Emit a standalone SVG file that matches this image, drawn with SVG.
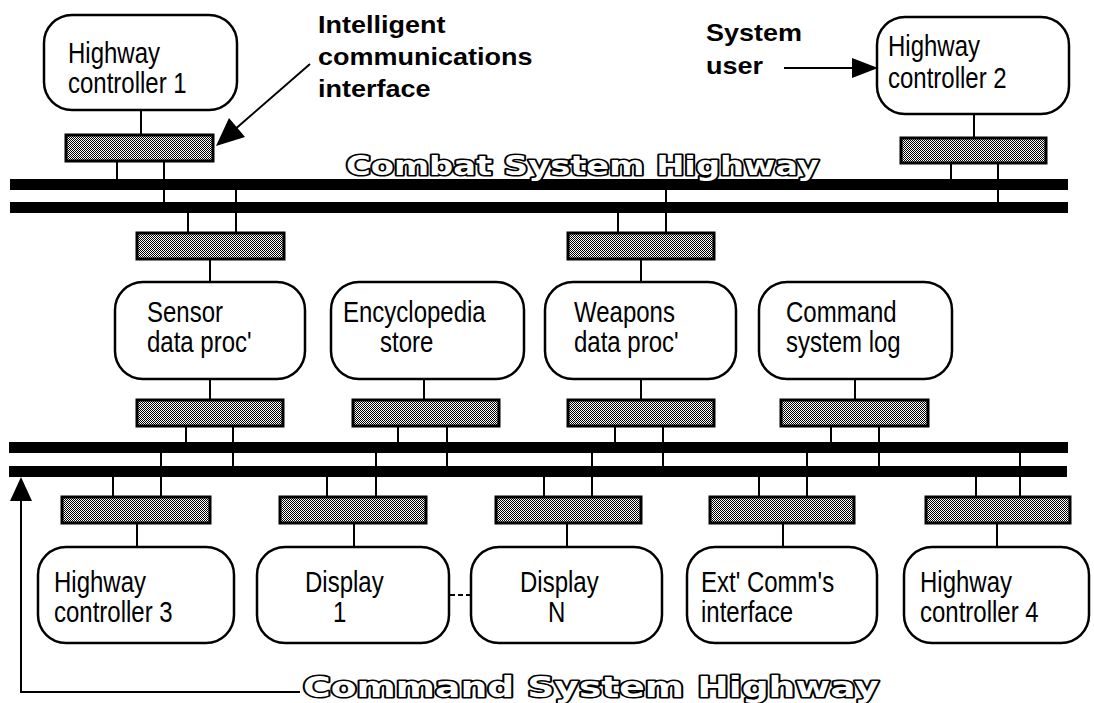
<svg xmlns="http://www.w3.org/2000/svg" width="1094" height="703" viewBox="0 0 1094 703">
<defs>
<pattern id="dither" width="2" height="2" patternUnits="userSpaceOnUse"><rect width="2" height="2" fill="#fff"/><rect width="1" height="1" fill="#000"/><rect x="1" y="1" width="1" height="1" fill="#000"/></pattern>
<style>
.box{fill:#fff;stroke:#000;stroke-width:2.5}
.ici{fill:url(#dither);stroke:#000;stroke-width:3}
.bus{fill:#000}
.ln{stroke:#000;stroke-width:2;fill:none}
.t{font-family:"Liberation Sans",Arial,sans-serif;font-size:24px;fill:#000}
.b{font-family:"Liberation Sans",Arial,sans-serif;font-size:27px;font-weight:bold;fill:#000}
.o{font-family:"DejaVu Sans",sans-serif;font-weight:bold;fill:#fff;stroke:#000;stroke-width:3.2;paint-order:stroke;stroke-linejoin:round}
</style>
</defs>
<rect width="1094" height="703" fill="#fff"/>

<g id="buses">
<rect class="bus" x="10" y="179" width="1058" height="11"/>
<rect class="bus" x="10" y="202" width="1058" height="11"/>
<rect class="bus" x="9" y="442" width="1059" height="11"/>
<rect class="bus" x="9" y="466" width="1058" height="11"/>
</g>

<g id="connectors">
<path class="ln" d="M141 110V135M117 161V179M164 161V202"/>
<path class="ln" d="M974 114V138M951 163V179M998 163V202"/>
<path class="ln" d="M188 213V233M236 190V233M210 259V282"/>
<path class="ln" d="M618 213V233M666 190V233M641 259V282"/>
<path class="ln" d="M210 379V400M186 426V442M233 426V466"/>
<path class="ln" d="M424 379V400M398 426V442M447 426V466"/>
<path class="ln" d="M641 379V400M615 426V442M663 426V466"/>
<path class="ln" d="M855 379V400M831 426V442M879 426V466"/>
<path class="ln" d="M113 477V497M161 453V497M137 523V547"/>
<path class="ln" d="M327 477V497M376 453V497M354 523V547"/>
<path class="ln" d="M544 477V497M592 453V497M567 523V547"/>
<path class="ln" d="M759 477V497M807 453V497M783 523V547"/>
<path class="ln" d="M976 477V497M1020 453V497M997 523V547"/>
<path class="ln" d="M450 595H472" stroke-dasharray="5 3" stroke-width="2.5"/>
<path class="ln" d="M300 692H21V498"/>
<polygon points="21,477 10,501 32,501" fill="#000"/>
<path class="ln" d="M310 64L233 131" stroke-width="3"/>
<polygon points="216,146 245,137 229,118" fill="#000"/>
<path class="ln" d="M784 68H856" stroke-width="3"/>
<polygon points="878,68 852,58 852,78" fill="#000"/>
</g>

<g id="ici">
<rect class="ici" x="66" y="135" width="147" height="26"/>
<rect class="ici" x="901" y="138" width="145" height="25"/>
<rect class="ici" x="137" y="233" width="147" height="26"/>
<rect class="ici" x="568" y="233" width="146" height="26"/>
<rect class="ici" x="137" y="400" width="146" height="26"/>
<rect class="ici" x="353" y="400" width="146" height="26"/>
<rect class="ici" x="568" y="400" width="146" height="26"/>
<rect class="ici" x="781" y="400" width="147" height="26"/>
<rect class="ici" x="62" y="497" width="148" height="26"/>
<rect class="ici" x="280" y="497" width="146" height="26"/>
<rect class="ici" x="496" y="497" width="145" height="26"/>
<rect class="ici" x="710" y="497" width="144" height="26"/>
<rect class="ici" x="926" y="497" width="144" height="26"/>
</g>

<g id="hc1"><rect class="box" x="44" y="15" width="193" height="95" rx="28"/>
<text class="t" transform="translate(68,63) scale(1,1.2)"><tspan x="0" y="0">Highway</tspan><tspan x="0" y="25">controller 1</tspan></text></g>
<g id="hc2"><rect class="box" x="877" y="17" width="192" height="97" rx="28"/>
<text class="t" transform="translate(888,56) scale(1,1.2)"><tspan x="0" y="0">Highway</tspan><tspan x="0" y="26.5">controller 2</tspan></text></g>
<g id="sensor"><rect class="box" x="115" y="282" width="190" height="97" rx="28"/>
<text class="t" transform="translate(147,322) scale(1,1.2)"><tspan x="0" y="0">Sensor</tspan><tspan x="0" y="25">data proc'</tspan></text></g>
<g id="encyclopedia"><rect class="box" x="331" y="282" width="193" height="97" rx="28"/>
<text class="t" transform="translate(343,322) scale(1,1.2)"><tspan x="0" y="0">Encyclopedia</tspan><tspan x="37" y="25">store</tspan></text></g>
<g id="weapons"><rect class="box" x="545" y="282" width="191" height="97" rx="28"/>
<text class="t" transform="translate(574,322) scale(1,1.2)"><tspan x="0" y="0">Weapons</tspan><tspan x="0" y="25">data proc'</tspan></text></g>
<g id="cmdlog"><rect class="box" x="759" y="282" width="193" height="97" rx="28"/>
<text class="t" transform="translate(786,322) scale(1,1.2)"><tspan x="0" y="0">Command</tspan><tspan x="0" y="25">system log</tspan></text></g>
<g id="hc3"><rect class="box" x="38" y="547" width="196" height="96" rx="28"/>
<text class="t" transform="translate(54,592) scale(1,1.2)"><tspan x="0" y="0">Highway</tspan><tspan x="0" y="25">controller 3</tspan></text></g>
<g id="display1"><rect class="box" x="257" y="547" width="192" height="96" rx="28"/>
<text class="t" transform="translate(305,592) scale(1,1.2)"><tspan x="0" y="0">Display</tspan><tspan x="28" y="25">1</tspan></text></g>
<g id="displayN"><rect class="box" x="471" y="547" width="191" height="96" rx="28"/>
<text class="t" transform="translate(520,592) scale(1,1.2)"><tspan x="0" y="0">Display</tspan><tspan x="28" y="25">N</tspan></text></g>
<g id="extcomm"><rect class="box" x="687" y="547" width="190" height="96" rx="28"/>
<text class="t" transform="translate(701,592) scale(1,1.2)"><tspan x="0" y="0">Ext' Comm's</tspan><tspan x="0" y="25">interface</tspan></text></g>
<g id="hc4"><rect class="box" x="904" y="547" width="185" height="96" rx="28"/>
<text class="t" transform="translate(920,592) scale(1,1.2)"><tspan x="0" y="0">Highway</tspan><tspan x="0" y="25">controller 4</tspan></text></g>

<g id="labels">
<text class="b" transform="translate(318,33) scale(1,0.9)"><tspan x="0" y="0">Intelligent</tspan><tspan x="0" y="35.5">communications</tspan><tspan x="0" y="71">interface</tspan></text>
<text class="b" transform="translate(706,41) scale(1,0.9)"><tspan x="0" y="0">System</tspan><tspan x="0" y="37">user</tspan></text>
<text class="o" x="346" y="175" font-size="26" textLength="473" lengthAdjust="spacingAndGlyphs">Combat System Highway</text>
<text class="o" x="303" y="697" font-size="28" textLength="576" lengthAdjust="spacingAndGlyphs">Command System Highway</text>
</g>
</svg>
